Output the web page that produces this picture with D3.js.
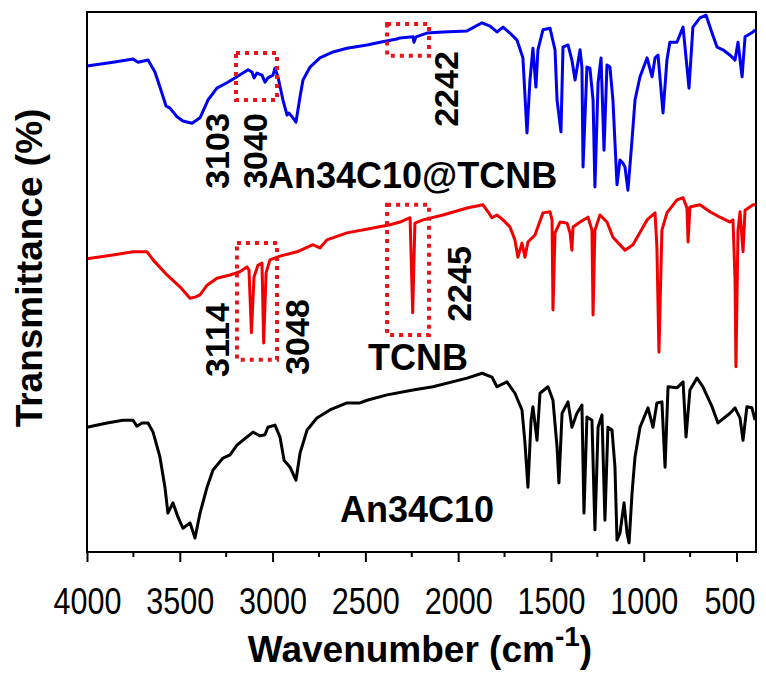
<!DOCTYPE html>
<html>
<head>
<meta charset="utf-8">
<script src="https://cdn.jsdelivr.net/npm/d3@7"></script>
<style>
  body { margin: 0; background: #fff; }
  text { font-family: "Liberation Sans", Arial, sans-serif; }
</style>
</head>
<body>
<div id="container"></div>
<script>
// spectra: [wavenumber, transmittance (a.u., offset stacked)]
const blueSeries = [
  [4000,90.0],[3860,90.7],[3752,91.3],[3725,90.7],[3671,91.1],[3634,88.9],[3607,86.1],[3574,82.6],
  [3553,82.2],[3515,80.6],[3483,79.8],[3434,79.4],[3391,80.4],[3348,83.7],[3300,85.9],[3246,86.9],
  [3192,88.0],[3132,89.3],[3111,88.9],[3100,87.8],[3084,88.7],[3057,88.3],[3041,87.0],[3025,87.8],
  [2998,88.3],[2987,89.6],[2971,88.0],[2944,83.7],[2922,80.9],[2912,81.3],[2890,80.4],[2874,79.6],
  [2852,84.3],[2836,87.4],[2798,89.8],[2745,91.5],[2674,92.6],[2599,93.3],[2491,93.9],[2421,94.4],
  [2330,95.0],[2313,95.2],[2243,95.4],[2238,94.4],[2227,95.4],[2168,96.1],[2082,96.3],[1952,96.5],
  [1871,98.0],[1828,97.4],[1791,96.3],[1758,97.2],[1721,96.1],[1683,94.8],[1651,91.5],[1629,77.6],
  [1613,87.4],[1597,93.3],[1581,86.1],[1570,93.0],[1543,96.7],[1505,97.0],[1478,93.0],[1467,83.7],
  [1446,77.8],[1435,93.5],[1408,93.9],[1387,91.1],[1370,87.4],[1343,93.0],[1333,89.8],[1327,71.3],
  [1306,89.8],[1290,89.6],[1273,83.7],[1263,67.6],[1246,86.9],[1230,91.5],[1214,74.4],[1198,90.2],
  [1182,89.8],[1166,83.7],[1144,68.0],[1128,72.6],[1112,72.0],[1101,71.3],[1085,67.0],[1063,76.3],
  [1047,83.7],[1020,88.0],[982,91.5],[955,88.0],[939,91.5],[923,92.0],[896,81.3],[875,91.1],
  [859,94.4],[821,94.4],[788,97.2],[767,89.8],[756,85.9],[735,97.2],[697,98.9],[664,99.4],
  [632,96.1],[605,93.5],[573,93.0],[535,92.0],[508,91.1],[492,94.4],[470,88.0],[454,95.4],
  [411,96.3],[400,96.7]
];
const redSeries = [
  [4000,54.3],[3860,55.0],[3752,55.6],[3677,55.6],[3644,54.1],[3569,51.3],[3499,49.1],[3445,47.0],
  [3418,47.2],[3391,47.6],[3353,49.4],[3300,50.7],[3229,51.3],[3176,51.9],[3138,52.8],[3127,52.2],
  [3114,40.6],[3100,50.9],[3079,53.1],[3057,53.5],[3048,38.7],[3035,51.7],[3014,54.1],[2960,54.8],
  [2868,55.6],[2782,56.9],[2745,56.3],[2707,57.8],[2599,59.1],[2459,60.0],[2367,60.6],[2313,61.1],
  [2259,61.9],[2245,44.3],[2233,60.9],[2189,61.5],[2082,62.4],[1952,63.7],[1866,64.3],[1839,63.0],
  [1818,61.9],[1791,62.4],[1758,61.5],[1721,60.2],[1694,57.8],[1678,54.6],[1656,57.2],[1640,54.6],
  [1624,57.4],[1586,58.7],[1543,62.8],[1505,63.0],[1494,61.5],[1489,44.8],[1478,59.1],[1451,61.1],
  [1413,60.9],[1397,59.1],[1387,55.9],[1381,60.2],[1343,61.1],[1300,62.0],[1279,59.6],[1273,43.9],
  [1263,59.6],[1236,62.4],[1198,61.1],[1166,58.3],[1101,55.9],[1058,56.9],[982,61.5],[939,62.8],
  [929,56.5],[918,37.0],[902,59.6],[875,62.8],[821,65.2],[788,65.6],[767,63.7],[761,57.4],
  [751,63.9],[697,64.3],[643,63.0],[589,62.0],[535,61.1],[519,61.5],[508,50.4],[503,34.3],
  [492,59.6],[481,63.0],[465,55.6],[454,63.3],[411,64.3],[400,64.3]
];
const blackSeries = [
  [4000,23.1],[3892,23.9],[3806,24.4],[3752,24.4],[3731,23.3],[3704,23.9],[3671,23.9],[3644,22.2],
  [3607,17.6],[3580,12.0],[3564,7.2],[3537,9.1],[3510,6.5],[3483,4.4],[3445,5.4],[3418,2.6],
  [3391,7.2],[3353,12.0],[3321,15.2],[3267,17.4],[3229,18.0],[3192,19.8],[3138,21.3],[3105,22.2],
  [3068,21.5],[3041,21.7],[3025,23.1],[2987,23.5],[2960,21.3],[2938,17.0],[2906,15.7],[2874,13.3],
  [2852,18.3],[2814,22.6],[2761,24.8],[2691,26.3],[2599,27.6],[2529,27.6],[2491,28.1],[2383,29.1],
  [2243,30.0],[2136,30.6],[1952,32.2],[1871,33.1],[1818,32.4],[1791,30.6],[1737,31.5],[1694,29.4],
  [1656,26.3],[1640,20.2],[1624,12.0],[1607,24.4],[1597,26.9],[1575,20.7],[1559,29.4],[1516,30.6],
  [1489,28.1],[1467,19.4],[1457,12.8],[1440,25.7],[1408,27.8],[1387,23.1],[1360,25.7],[1333,27.2],
  [1322,7.2],[1306,25.0],[1279,24.4],[1263,4.1],[1246,23.1],[1225,25.4],[1209,5.9],[1193,23.1],
  [1171,22.6],[1155,15.7],[1144,2.2],[1128,3.5],[1106,9.1],[1090,3.5],[1079,1.7],[1063,10.9],
  [1047,17.6],[1020,23.1],[977,26.7],[950,23.1],[929,27.6],[902,27.8],[885,15.7],[869,30.6],
  [821,30.4],[788,31.5],[772,21.3],[751,30.0],[713,32.2],[681,30.6],[632,26.9],[600,23.9],
  [535,25.7],[508,26.7],[481,24.8],[465,20.7],[444,26.9],[417,26.7],[400,24.4]
];

const xTicks = [4000, 3500, 3000, 2500, 2000, 1500, 1000, 500];
const xMinorTicks = [3750, 3250, 2750, 2250, 1750, 1250, 750];

const sampleNames = ["An34C10@TCNB", "TCNB", "An34C10"];
const peakLabels = ["3103", "3040", "2242", "3114", "3048", "2245"];

// highlighted regions [wn from, wn to, value low, value high]
const boxes = [
  [3197, 2976, 83.7, 92.4],
  [2383, 2157, 91.9, 97.8],
  [3192, 2976, 35.6, 57.2],
  [2383, 2157, 40.2, 64.3]
];

const width = 766;
const height = 675;
const margin = {left: 87, right: 10, top: 12, bottom: 123};

const svg = d3.select("#container")
  .append("svg")
  .attr("width", width)
  .attr("height", height);

const xScale = d3.scaleLinear()
  .domain([4000, 395])
  .range([margin.left, width - margin.right]);

const yScale = d3.scaleLinear()
  .domain([0, 100])
  .range([height - margin.bottom, margin.top]);

const line = d3.line()
  .x(d => xScale(d[0]))
  .y(d => yScale(d[1]));

// spectra
[[blueSeries, "#0000f0"], [redSeries, "#f00000"], [blackSeries, "#000"]].forEach(([data, color]) => {
  svg.append("path")
    .datum(data)
    .attr("d", line)
    .attr("fill", "none")
    .attr("stroke", color)
    .attr("stroke-width", 3)
    .attr("stroke-linejoin", "round");
});

// dotted red boxes
boxes.forEach(b => {
  svg.append("rect")
    .attr("x", xScale(b[0]))
    .attr("y", yScale(b[3]))
    .attr("width", xScale(b[1]) - xScale(b[0]))
    .attr("height", yScale(b[2]) - yScale(b[3]))
    .attr("fill", "none")
    .attr("stroke", "#e8141a")
    .attr("stroke-width", 4)
    .attr("stroke-dasharray", "4,5");
});

// frame
svg.append("rect")
  .attr("x", margin.left)
  .attr("y", margin.top)
  .attr("width", width - margin.left - margin.right)
  .attr("height", height - margin.top - margin.bottom)
  .attr("fill", "none")
  .attr("stroke", "#000")
  .attr("stroke-width", 2);

// bottom axis
const xAxis = svg.append("g")
  .attr("transform", `translate(0,${height - margin.bottom})`);

xAxis.call(d3.axisBottom(xScale).tickValues(xTicks).tickFormat(d3.format("d")).tickSize(10).tickPadding(26))
  .call(g => g.select(".domain").remove());
xAxis.selectAll(".tick line").attr("stroke-width", 2);
xAxis.selectAll(".tick text")
  .attr("font-size", 36)
  .attr("font-family", "Liberation Sans, Arial, sans-serif")
  .attr("fill", "#000")
  .attr("textLength", d => String(d).length * 17)
  .attr("lengthAdjust", "spacingAndGlyphs");
// last label pulled in a little so it stays inside the page
xAxis.selectAll(".tick text").filter(d => d === 500).attr("dx", -7);

xMinorTicks.forEach(t => {
  xAxis.append("line")
    .attr("x1", xScale(t)).attr("x2", xScale(t))
    .attr("y1", 0).attr("y2", 5)
    .attr("stroke", "#000")
    .attr("stroke-width", 2);
});

// axis titles
const xTitle = svg.append("text")
  .attr("x", 420)
  .attr("y", 662)
  .attr("text-anchor", "middle")
  .attr("font-size", 37)
  .attr("font-weight", "bold");
xTitle.append("tspan").text("Wavenumber (cm");
xTitle.append("tspan").attr("font-size", 28).attr("dy", -16).text("-1");
xTitle.append("tspan").attr("dy", 16).text(")");

svg.append("text")
  .attr("transform", "translate(42,268) rotate(-90)")
  .attr("text-anchor", "middle")
  .attr("font-size", 37)
  .attr("font-weight", "bold")
  .text("Transmittance (%)");

// sample names
const namePos = [[268, 188], [368, 370], [340, 522]];
sampleNames.forEach((name, i) => {
  svg.append("text")
    .attr("x", namePos[i][0])
    .attr("y", namePos[i][1])
    .attr("font-size", 36)
    .attr("font-weight", "bold")
    .text(name);
});

// rotated peak labels, centre positions
const peakPos = [[217, 151], [255, 151], [446, 89], [217, 340], [297, 337], [459, 284]];
peakLabels.forEach((label, i) => {
  svg.append("text")
    .attr("transform", `translate(${peakPos[i][0]},${peakPos[i][1]}) rotate(-90)`)
    .attr("text-anchor", "middle")
    .attr("dominant-baseline", "central")
    .attr("font-size", 34)
    .attr("font-weight", "bold")
    .text(label);
});
</script>
</body>
</html>
